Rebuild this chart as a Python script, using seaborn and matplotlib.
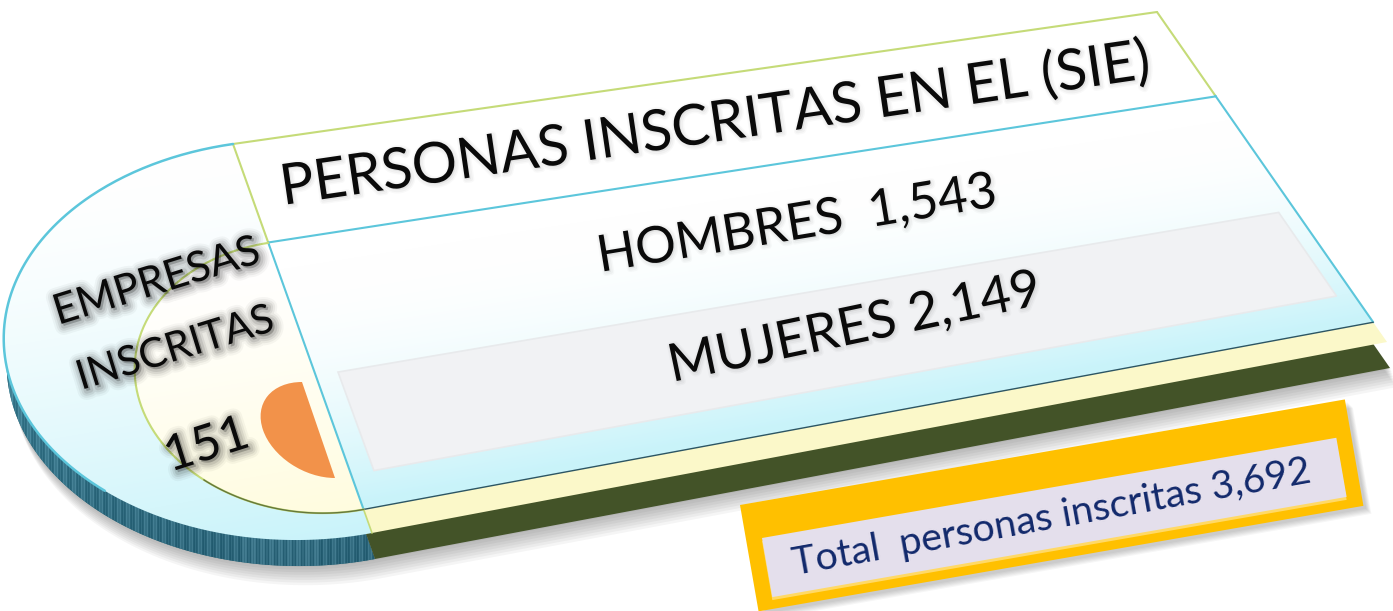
import numpy as np
import matplotlib
matplotlib.use("Agg")
import matplotlib.pyplot as plt
import seaborn as sns
from matplotlib.patches import Polygon, Wedge
from matplotlib.transforms import Affine2D
import matplotlib.patheffects as pe

# ---------------- data ----------------
title = "PERSONAS INSCRITAS EN EL (SIE)"
categories = ["HOMBRES", "MUJERES"]
values = [1543, 2149]
company_words = ["EMPRESAS", "INSCRITAS"]
company_count = 151
total_label = "Total  personas inscritas"
total_count = sum(values)

sns.set_theme(style="white")
plt.rcParams["font.family"] = ["Lato", "DejaVu Sans"]

W, H = 1393, 611
fig = plt.figure(figsize=(W / 100, H / 100), dpi=100)
ax = fig.add_axes([0, 0, 1, 1])
ax.set_xlim(0, W)
ax.set_ylim(H, 0)
ax.set_axis_off()


# ---------------- perspective helpers ----------------
def homography(src, dst):
    A, b = [], []
    for (u, v), (x, y) in zip(src, dst):
        A.append([u, v, 1, 0, 0, 0, -u * x, -v * x]); b.append(x)
        A.append([0, 0, 0, u, v, 1, -u * y, -v * y]); b.append(y)
    h = np.linalg.solve(np.array(A, float), np.array(b, float))
    return np.append(h, 1).reshape(3, 3)


LF = 1.63
HM = homography([(0, 0), (LF, 0), (LF, 1), (0, 1)],
                [(233, 144), (1157, 12), (1387, 342), (372, 533)])
HI = np.linalg.inv(HM)


def proj(u, v):
    u = np.atleast_1d(np.asarray(u, float)); v = np.atleast_1d(np.asarray(v, float))
    p = HM @ np.vstack([u, v, np.ones_like(u)])
    return np.column_stack([p[0] / p[2], p[1] / p[2]])


RX = 0.423          # outer semicircle half-width (flat units)
IN_R, IN_C = 0.334, 0.612
IN_RX = 0.255       # inner semicircle half-width (flat units)
t = np.linspace(0, np.pi, 240)
outer_arc = proj(-RX * np.sin(t), 0.5 - 0.5 * np.cos(t))
inner_arc = proj(-IN_RX * np.sin(t), IN_C - IN_R * np.cos(t))
rect = proj([0, LF, LF, 0], [0, 0, 1, 1])
slab = np.vstack([outer_arc, proj([LF, LF], [1, 0])])
SHIFT = np.array([3, 26])

# ---------------- shadows ----------------
for k in range(8):
    off = np.array([4 + k * 0.8, 27 + k * 2.6])
    ax.add_patch(Polygon(slab + off, closed=True, fc="black", ec="none", alpha=0.04, zorder=1))

# ---------------- rims (3D thickness) ----------------
teal_patch = Polygon(outer_arc + SHIFT, closed=True, fc="#2F6B7C", ec="none", zorder=2)
ax.add_patch(teal_patch)
gx, gy = np.meshgrid(np.arange(0, 400) + 0.5, np.arange(280, 580) + 0.5)
stripes = 0.07 * (np.sin(gx * 2.1) > 0.3) + 0.04 * np.sin(gx * 0.7)
shade = np.clip((gy - 330) / 240, 0, 1)
rim = np.dstack([0.24 + stripes - 0.08 * shade,
                 0.50 + stripes - 0.12 * shade,
                 0.58 + stripes - 0.12 * shade])
im_rim = ax.imshow(np.clip(rim, 0, 1), extent=(0, 400, 580, 280), origin="upper",
                   interpolation="bilinear", zorder=2.1)
im_rim.set_clip_path(teal_patch)
ax.add_patch(Polygon(rect + SHIFT, closed=True, fc="#435328", ec="none", zorder=2.2))

# ---------------- top surface (gradient via inverse homography) ----------------
xx, yy = np.meshgrid(np.arange(W) + 0.5, np.arange(560) + 0.5)
P = HI @ np.vstack([xx.ravel(), yy.ravel(), np.ones(xx.size)])
U = (P[0] / P[2]).reshape(xx.shape)
V = (P[1] / P[2]).reshape(xx.shape)
white = np.array([1.0, 1.0, 1.0])
cyan = np.array([0.79, 0.955, 0.98])
cream = np.array([1.0, 0.99, 0.875])
yellow = np.array([0.985, 0.975, 0.79])
img = np.ones(xx.shape + (3,))
rnd = U < 0
tt = np.clip(V, 0, 1) ** 1.6
ring = white + (cyan - white) * tt[..., None]
img[rnd] = ring[rnd]
inner = rnd & ((U / IN_RX) ** 2 + ((V - IN_C) / IN_R) ** 2 <= 1.0)
ti = np.clip((V - 0.3) / 0.64, 0, 1) ** 1.3
inner_col = white + (cream - white) * ti[..., None]
img[inner] = inner_col[inner]
rc = (U >= 0) & (V < 0.946)
tr = np.clip((V - 0.35) / 0.58, 0, 1) ** 2
face = white + (cyan - white) * tr[..., None]
img[rc] = face[rc]
ys = (U >= 0) & (V >= 0.946)
img[ys] = yellow
slab_patch = Polygon(slab, closed=True, fc="none", ec="none", zorder=3)
ax.add_patch(slab_patch)
im_top = ax.imshow(img, extent=(0, W, 560, 0), origin="upper", interpolation="bilinear", zorder=3)
im_top.set_clip_path(slab_patch)

# gray band (MUJERES row)
gb = proj([0.033, LF - 0.03, LF - 0.03, 0.033], [0.625, 0.625, 0.865, 0.865])
ax.add_patch(Polygon(gb, closed=True, fc="#F1F2F4", ec="#E8EAEC", lw=1.2, zorder=4))

# ---------------- outlines ----------------
GREEN = "#C5DB78"
CYAN = "#5CC6DB"
s = np.linspace(0, 1, 50)
ax.plot(*proj(s * LF, 0 * s).T, color=GREEN, lw=1.5, zorder=5)
ax.plot(*proj(0 * s + LF, s * 0.275).T, color=GREEN, lw=1.5, zorder=5)
ax.plot(*proj(0 * s + LF, 0.275 + s * 0.671).T, color=CYAN, lw=1.5, zorder=5)
ax.plot(*proj(0 * s, s * 0.278).T, color=GREEN, lw=1.5, zorder=5)
ax.plot(*proj(0 * s, 0.278 + s * 0.668).T, color=CYAN, lw=1.5, zorder=5)
ax.plot(*proj(0 * s, 0.946 + s * 0.054).T, color=GREEN, lw=1.2, zorder=5)
ax.plot(*proj(s * LF, 0.277 + 0 * s).T, color=CYAN, lw=1.5, zorder=5)
ax.plot(*proj(s * LF, 0.946 + 0 * s).T, color="#2C5563", lw=1.0, zorder=5)
ax.plot(*outer_arc[:170].T, color=CYAN, lw=1.8, zorder=5)
ax.plot(*inner_arc.T, color=GREEN, lw=1.5, zorder=5)
ax.plot(*inner_arc[170:].T, color="#4D5E2E", lw=1.0, alpha=0.8, zorder=5)

# ---------------- half pie for companies ----------------
pie_tf = Affine2D(np.array([[55.5, -16.5, 318.5], [0.0, -48.0, 430.0], [0, 0, 1]])) + ax.transData
ax.add_patch(Wedge((0, 0), 1.0, 90, 270, fc="#F2924A", ec="none", transform=pie_tf, zorder=6))

# ---------------- total box ----------------
def rrect(tl, w, h, ang):
    a = np.radians(ang)
    ex = np.array([np.cos(a), -np.sin(a)])
    ey = np.array([np.sin(a), np.cos(a)])
    tl = np.array(tl, float)
    return np.array([tl, tl + w * ex, tl + w * ex + h * ey, tl + h * ey])

BOX_ANG = 9.9
outer_box = rrect((740, 505), 614, 108, BOX_ANG)
for k in range(6):
    ax.add_patch(Polygon(outer_box + np.array([3 + k, 3 + k]), closed=True, fc="black",
                         ec="none", alpha=0.035, zorder=6))
ax.add_patch(Polygon(outer_box, closed=True, fc="#FFC000", ec="none", zorder=7))
inner_box = rrect((762, 538), 583, 60, BOX_ANG)
ax.add_patch(Polygon(inner_box + np.array([0, 3]), closed=True, fc="#FFD966", ec="none", zorder=7.5))
ax.add_patch(Polygon(inner_box, closed=True, fc="#E4DFEC", ec="none", zorder=8))

# ---------------- texts ----------------
renderer = fig.canvas.get_renderer()


def fit_text(s, start, end, color="#0A0A0A", effects=None):
    dx, dy = end[0] - start[0], end[1] - start[1]
    length = np.hypot(dx, dy)
    ang = np.degrees(np.arctan2(-dy, dx))
    txt = ax.text(start[0], start[1], s, fontsize=20, color=color, ha="left", va="baseline",
                  rotation=0, rotation_mode="anchor", zorder=10)
    w = txt.get_window_extent(renderer).width
    txt.set_fontsize(20 * length / w)
    txt.set_rotation(ang)
    if effects:
        txt.set_path_effects(effects)
    return txt


glow = [pe.Stroke(linewidth=lw, foreground="black", alpha=a, offset=(1.5, -1.5))
        for lw, a in [(13, 0.035), (10, 0.05), (7, 0.07), (4, 0.09)]] + [pe.Normal()]
soft = [pe.Stroke(linewidth=lw, foreground="black", alpha=a, offset=(1, -1))
        for lw, a in [(5, 0.025), (3, 0.03)]] + [pe.Normal()]

fit_text(title, (283, 205), (1150, 78), effects=soft)
fit_text(f"{categories[0]}  {values[0]:,}", (600, 272), (998, 206), effects=soft)
fit_text(f"{categories[1]} {values[1]:,}", (672, 382), (1043, 304), effects=soft)
fit_text(company_words[0], (58, 325), (262, 262), effects=glow)
fit_text(company_words[1], (81, 390), (276, 330), effects=glow)
fit_text(f"{company_count}", (170, 472), (252, 446), effects=glow)
fit_text(f"{total_label} {total_count:,}", (795, 575), (1313, 482), color="#12296B")

fig.savefig("out.png", dpi=100, facecolor="white")
